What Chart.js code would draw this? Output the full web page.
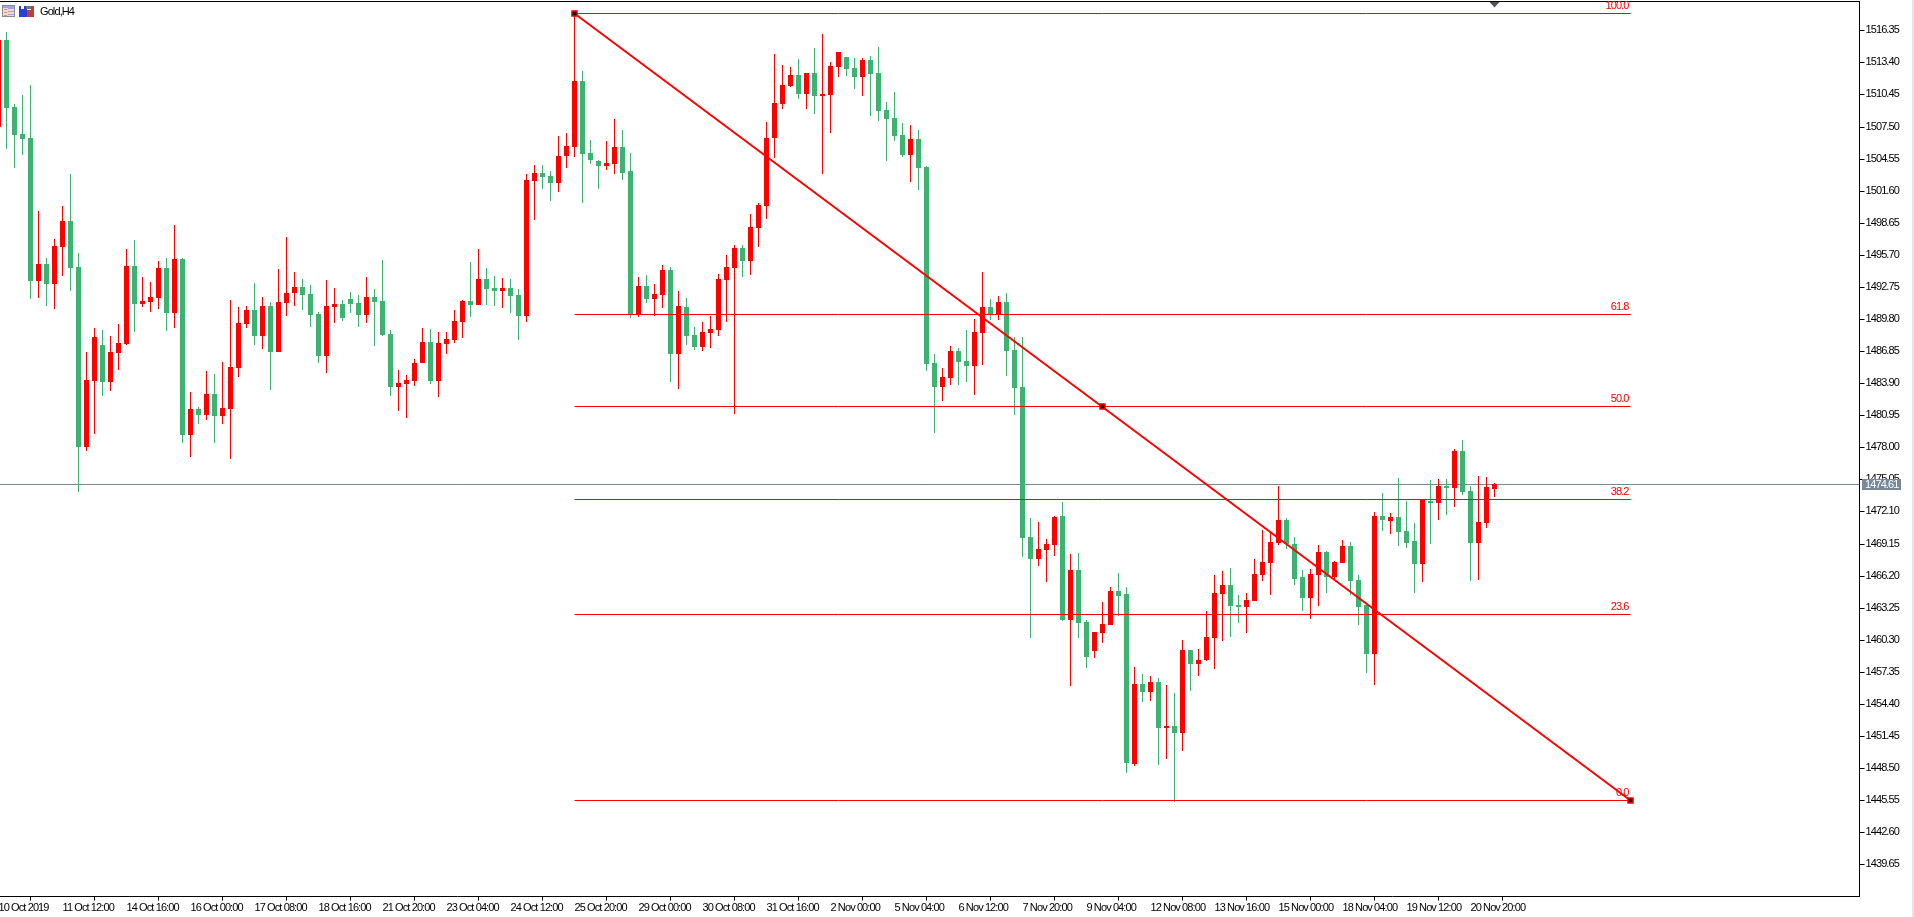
<!DOCTYPE html>
<html>
<head>
<meta charset="utf-8">
<title>Gold,H4</title>
<script src="https://cdn.jsdelivr.net/npm/chart.js@4/dist/chart.umd.min.js"></script>
<style>
html,body{margin:0;padding:0;background:#fff;overflow:hidden;width:1914px;height:917px}
#c{position:absolute;left:-10px;top:0}
#strip{position:absolute;left:1912px;top:0;width:2px;height:917px;background:#e6e6e6}
</style>
</head>
<body>
<canvas id="c" width="1924" height="917"></canvas>
<div id="strip"></div>
<script>
const symbolTitle = "Gold,H4";
const opens = [1507.49,1515.46,1509.30,1506.81,1506.44,1493.32,1494.85,1493.04,1496.45,1498.81,1494.58,1478.05,1484.12,1487.40,1484.03,1486.70,1487.52,1494.67,1491.20,1491.39,1491.76,1494.48,1490.38,1495.31,1479.15,1481.51,1480.99,1482.89,1480.90,1481.55,1485.32,1489.36,1490.62,1488.26,1490.99,1486.79,1491.30,1492.22,1492.74,1492.09,1490.25,1486.42,1490.93,1491.17,1491.63,1491.27,1490.19,1491.82,1491.45,1488.41,1483.57,1483.85,1484.12,1485.78,1487.68,1484.12,1487.52,1487.89,1489.55,1491.45,1491.11,1493.47,1492.65,1492.40,1492.65,1492.00,1490.10,1502.52,1503.22,1502.95,1502.34,1504.82,1505.65,1511.69,1505.06,1504.33,1503.90,1504.08,1505.62,1503.41,1490.16,1492.83,1491.66,1492.00,1494.30,1486.60,1490.90,1488.32,1487.25,1488.51,1488.81,1493.41,1494.48,1496.33,1495.13,1498.17,1500.19,1506.48,1509.57,1511.23,1512.24,1510.49,1512.42,1510.34,1510.40,1512.98,1513.90,1512.88,1512.06,1513.62,1512.42,1509.02,1508.28,1506.72,1504.88,1506.35,1503.78,1485.75,1483.57,1484.40,1486.85,1485.93,1485.50,1488.54,1490.90,1490.22,1491.36,1486.94,1483.52,1469.73,1467.76,1468.58,1469.04,1471.66,1462.14,1466.70,1461.91,1459.28,1460.95,1461.68,1464.77,1464.50,1448.87,1456.22,1455.50,1456.39,1452.22,1452.35,1451.72,1459.35,1458.06,1458.42,1460.50,1464.54,1465.32,1463.48,1463.32,1463.88,1466.28,1467.39,1469.23,1471.30,1469.10,1466.05,1464.17,1466.28,1468.35,1466.08,1467.39,1468.91,1465.78,1463.48,1459.02,1471.66,1471.20,1471.57,1470.29,1469.37,1467.30,1473.04,1472.91,1474.42,1474.29,1477.64,1473.96,1469.23,1471.07,1474.19];
const highs = [1515.61,1516.20,1509.57,1510.40,1511.32,1499.73,1495.41,1497.15,1500.19,1503.13,1495.87,1486.76,1488.97,1488.78,1488.23,1489.33,1496.23,1497.06,1493.66,1493.20,1495.13,1495.41,1498.44,1495.41,1483.08,1481.70,1485.01,1484.73,1485.84,1491.54,1490.90,1490.99,1493.11,1491.82,1491.36,1494.39,1497.34,1494.12,1493.47,1492.92,1490.44,1493.38,1492.65,1491.54,1492.28,1492.00,1493.66,1492.55,1495.22,1488.78,1485.10,1484.64,1486.11,1488.97,1488.87,1488.60,1488.60,1490.62,1491.54,1495.04,1496.23,1494.48,1493.75,1493.57,1493.47,1492.55,1503.13,1503.96,1503.96,1503.41,1506.63,1506.90,1517.91,1512.61,1506.26,1504.42,1506.17,1508.19,1507.18,1505.06,1493.66,1493.84,1493.01,1494.76,1494.58,1492.37,1491.73,1489.06,1489.52,1490.07,1493.93,1495.68,1496.60,1496.60,1499.45,1500.46,1507.92,1514.17,1513.16,1512.98,1513.71,1512.42,1514.72,1516.01,1513.44,1514.36,1513.90,1513.80,1513.80,1513.99,1514.82,1509.76,1510.68,1507.82,1507.64,1507.18,1503.87,1486.57,1485.29,1487.31,1487.13,1488.78,1489.79,1494.12,1491.63,1491.91,1492.18,1488.14,1488.12,1471.50,1471.11,1469.53,1471.70,1472.95,1468.18,1468.25,1462.10,1461.02,1463.75,1465.13,1466.44,1465.13,1457.77,1457.14,1456.95,1456.75,1456.13,1455.40,1460.26,1459.35,1459.44,1462.93,1466.24,1466.60,1466.90,1464.40,1464.60,1467.72,1470.38,1470.12,1474.42,1471.50,1469.73,1466.70,1466.80,1469.00,1468.45,1467.53,1469.46,1469.27,1466.24,1463.48,1472.01,1473.80,1471.96,1475.18,1473.04,1471.04,1473.21,1474.98,1475.05,1475.08,1477.84,1478.66,1474.42,1475.34,1475.25,1474.72];
const lows = [1507.33,1505.46,1503.72,1504.91,1491.66,1491.76,1491.02,1490.74,1493.75,1492.40,1473.91,1477.65,1479.25,1482.74,1483.20,1485.13,1487.40,1488.63,1490.93,1490.47,1490.74,1488.72,1489.00,1478.42,1477.13,1480.16,1480.53,1478.42,1480.16,1476.94,1484.49,1489.00,1487.43,1487.06,1483.29,1486.76,1490.10,1491.02,1490.65,1489.09,1485.78,1484.86,1489.46,1489.64,1490.38,1489.09,1489.46,1487.34,1488.26,1482.74,1481.36,1480.72,1483.66,1485.78,1483.85,1482.65,1486.60,1487.62,1488.08,1490.01,1491.11,1491.11,1491.02,1490.84,1490.38,1487.89,1489.55,1498.93,1501.78,1500.68,1501.51,1503.72,1504.73,1500.50,1504.08,1501.78,1503.53,1503.16,1502.61,1489.92,1490.01,1491.30,1490.10,1490.84,1484.03,1483.38,1487.43,1486.97,1486.88,1487.16,1488.26,1489.55,1481.08,1493.69,1493.87,1496.45,1499.02,1504.64,1509.14,1511.14,1510.06,1509.14,1508.68,1503.16,1506.94,1512.06,1512.15,1510.98,1510.34,1508.50,1508.04,1504.36,1506.20,1504.73,1502.43,1501.69,1485.04,1479.34,1482.28,1483.75,1483.75,1484.03,1482.83,1485.59,1489.70,1489.73,1484.58,1480.99,1467.92,1460.50,1467.07,1465.59,1468.02,1462.01,1456.06,1460.50,1457.74,1458.66,1460.00,1461.68,1462.47,1448.04,1448.70,1454.55,1454.65,1448.80,1449.36,1445.38,1450.08,1455.60,1456.98,1458.33,1457.64,1460.20,1460.56,1461.84,1460.95,1463.88,1465.69,1464.44,1469.04,1468.61,1465.36,1462.93,1462.24,1463.42,1464.60,1465.85,1467.39,1464.40,1461.68,1457.28,1456.16,1470.32,1470.05,1468.91,1468.74,1464.63,1465.62,1469.14,1471.34,1471.80,1472.52,1473.64,1465.72,1465.82,1470.61,1473.44];
const closes = [1515.46,1509.24,1506.75,1506.38,1493.32,1494.85,1493.04,1496.51,1498.81,1494.52,1478.05,1484.18,1488.14,1484.03,1486.76,1487.59,1494.67,1491.20,1491.45,1491.82,1494.48,1490.38,1495.31,1479.15,1481.51,1480.99,1482.89,1480.90,1481.61,1485.38,1489.43,1490.62,1488.26,1490.99,1486.79,1491.36,1492.19,1492.74,1492.03,1490.19,1486.42,1490.99,1491.17,1489.92,1491.20,1490.19,1491.82,1491.39,1488.35,1483.57,1483.91,1484.18,1485.75,1487.68,1484.12,1487.59,1487.95,1489.61,1491.45,1491.11,1493.47,1492.58,1492.40,1492.65,1491.94,1490.10,1502.58,1503.22,1502.89,1502.34,1504.79,1505.71,1511.69,1505.00,1504.45,1503.90,1504.14,1505.62,1503.26,1490.25,1492.83,1491.66,1492.09,1494.30,1486.60,1490.99,1488.26,1487.25,1488.60,1488.87,1493.47,1494.58,1496.33,1495.13,1498.26,1500.28,1506.44,1509.66,1511.32,1512.24,1510.49,1512.42,1510.34,1510.49,1513.07,1514.36,1512.79,1512.06,1513.62,1512.33,1508.93,1508.19,1506.63,1504.88,1506.35,1503.72,1485.68,1483.57,1484.46,1486.85,1485.87,1485.50,1488.60,1490.90,1490.25,1491.36,1486.88,1483.48,1469.69,1467.76,1468.64,1469.10,1471.60,1462.14,1466.70,1461.84,1458.72,1460.99,1461.74,1464.77,1464.31,1449.00,1456.22,1455.50,1456.39,1452.22,1452.35,1451.72,1459.35,1458.06,1458.42,1460.53,1464.60,1465.32,1463.42,1463.32,1463.94,1466.34,1467.43,1469.27,1471.30,1469.10,1465.92,1464.17,1466.34,1468.35,1466.08,1467.43,1468.91,1465.72,1463.32,1459.02,1471.66,1471.34,1471.57,1470.22,1469.23,1467.30,1473.21,1472.91,1474.42,1474.29,1477.64,1473.90,1469.23,1471.11,1474.33,1474.61];

const dateLabels = ["10 Oct 2019","11 Oct 12:00","14 Oct 16:00","16 Oct 00:00","17 Oct 08:00","18 Oct 16:00","21 Oct 20:00","23 Oct 04:00","24 Oct 12:00","25 Oct 20:00","29 Oct 00:00","30 Oct 08:00","31 Oct 16:00","2 Nov 00:00","5 Nov 04:00","6 Nov 12:00","7 Nov 20:00","9 Nov 04:00","12 Nov 08:00","13 Nov 16:00","15 Nov 00:00","18 Nov 04:00","19 Nov 12:00","20 Nov 20:00"];
const dateLabelEvery = 8;
const priceTicks = [1516.35,1513.40,1510.45,1507.50,1504.55,1501.60,1498.65,1495.70,1492.75,1489.80,1486.85,1483.90,1480.95,1478.00,1475.05,1472.10,1469.15,1466.20,1463.25,1460.30,1457.35,1454.40,1451.45,1448.50,1445.55,1442.60,1439.65];

const fibLabels = ["100.0","61.8","50.0","38.2","23.6","0.0"];
const fibPrices = [1517.90,1490.26,1481.72,1473.19,1462.63,1445.55];
const fibStart = 72;
const fibEnd = 204;
const fibMid = 138;
const lastPrice = 1474.61;

const priceMin = 1436.69, priceMax = 1519.00;
const barMin = -1.0625, barMax = 232.625;

const UP = "#FF0000", DOWN = "#3CB371", LAST = "#778899";
const FONT = '"Liberation Sans",sans-serif';
const colors = closes.map((c,i)=> c>=opens[i] ? UP : DOWN);
const level = p => [{x:fibStart,y:p},{x:fibEnd,y:p}];

function roundScale(fn){
  return function(scale){
    if(scale._wrapped) return;
    scale._wrapped = true;
    const g = scale.getPixelForValue;
    scale.getPixelForValue = function(v,i){ return fn(g.call(scale,v,i)); };
  };
}
function noPadding(s){ s.paddingTop = 0; s.paddingBottom = 0; s.paddingLeft = 0; s.paddingRight = 0; }

const datasets = [
  {type:"line",label:"last",yAxisID:"yLine",order:6,data:[{x:barMin,y:lastPrice},{x:barMax,y:lastPrice}],borderColor:LAST,borderWidth:1,pointRadius:0},
  {type:"bar",label:"wicks",yAxisID:"y",order:5,grouped:false,barThickness:1,inflateAmount:0,data:highs.map((h,i)=>({x:i,y:[lows[i],h]})),backgroundColor:colors},
  {type:"bar",label:"bodies",yAxisID:"y",order:4,grouped:false,barThickness:5,inflateAmount:0,data:opens.map((o,i)=>({x:i,y:[o,closes[i]]})),backgroundColor:colors}
];
fibPrices.forEach((p,k)=>datasets.push({type:"line",label:"fib "+fibLabels[k],yAxisID:"yLine",order:3,data:level(p),borderColor:UP,borderWidth:1,pointRadius:0}));
datasets.push({type:"line",label:"trend",yAxisID:"yLine",order:2,data:[{x:fibStart,y:fibPrices[0]},{x:fibEnd,y:fibPrices[5]}],borderColor:UP,borderWidth:2,pointRadius:0});
datasets.push({type:"line",label:"anchors",yAxisID:"yLine",order:1,showLine:false,data:[{x:fibStart,y:fibPrices[0]},{x:fibMid,y:fibPrices[2]},{x:fibEnd,y:fibPrices[5]}],pointStyle:"rect",pointRadius:3.6,pointBackgroundColor:"#000",pointBorderColor:UP,pointBorderWidth:1.4});

const overlay = {
  id:"overlay",
  beforeDraw(chart){ chart.ctx.letterSpacing = "-0.9px"; },
  afterDraw(chart){
    const ctx = chart.ctx, xs = chart.scales.x, ys = chart.scales.yLine;
    ctx.save();
    ctx.fillStyle="#000";
    ctx.fillRect(0,1,chart.chartArea.right+0.5,1);
    ctx.font='11px '+FONT; ctx.fillStyle=UP; ctx.textAlign="right"; ctx.textBaseline="middle";
    const capX = xs.getPixelForValue(fibEnd)-2;
    fibLabels.forEach((t,k)=>ctx.fillText(t,capX,ys.getPixelForValue(fibPrices[k])-8));
    const ly = ys.getPixelForValue(lastPrice);
    ctx.fillStyle=LAST; ctx.fillRect(1872,479,39,11);
    ctx.fillStyle="#fff"; ctx.textAlign="left";
    ctx.fillText(lastPrice.toFixed(2),1875,ly+0.5);
    ctx.fillStyle="#000"; ctx.font='11px '+FONT;
    ctx.fillText(symbolTitle,50,12);
    ctx.fillStyle="#8a8a9a"; ctx.fillRect(12,5,13,12);
    ctx.fillStyle="#f4d8c8"; ctx.fillRect(13,6,11,10);
    ctx.fillStyle="#9aa6e8"; ctx.fillRect(13,6,11,2); ctx.fillRect(18,8,6,1); ctx.fillRect(18,11,6,1); ctx.fillRect(18,14,6,1);
    ctx.fillStyle="#e88a70"; ctx.fillRect(14,9,3,1); ctx.fillRect(14,12,3,1); ctx.fillRect(14,15,3,1);
    ctx.fillStyle="#2a3fd8"; ctx.fillRect(29,6,8,11);
    ctx.fillStyle="#fff"; ctx.fillRect(31,6,3,3);
    ctx.fillStyle="#c83a32"; ctx.fillRect(37,10,7,7); ctx.fillRect(41,6,3,5);
    ctx.fillStyle="#777"; ctx.fillRect(36,6,5,3);
    const tx = xs.getPixelForValue(187);
    ctx.fillStyle="#555"; ctx.beginPath(); ctx.moveTo(tx-5,2); ctx.lineTo(tx+5,2); ctx.lineTo(tx,7.5); ctx.closePath(); ctx.fill();
    ctx.restore();
  }
};

new Chart(document.getElementById("c"),{
  data:{datasets},
  plugins:[overlay],
  options:{
    responsive:false,animation:false,devicePixelRatio:1,
    layout:{padding:{top:1.5,left:0,right:0,bottom:0},autoPadding:false},
    plugins:{legend:{display:false},tooltip:{enabled:false},title:{display:false}},
    elements:{line:{tension:0,borderCapStyle:"butt"}},
    scales:{
      x:{type:"linear",position:"bottom",min:barMin,max:barMax,offset:false,
        afterBuildTicks(s){ s.ticks = dateLabels.map((_,k)=>({value:k*dateLabelEvery})); },
        afterFit(s){ s.height = 20.5; noPadding(s); },
        grid:{drawOnChartArea:false,drawTicks:true,tickLength:4,color:"#000",tickColor:"#000"},
        border:{display:true,color:"#000",width:1},
        ticks:{autoSkip:false,maxRotation:0,minRotation:0,align:"start",padding:1,color:"#000",font:{family:FONT,size:11},
          callback(v){ return dateLabels[Math.round(v/dateLabelEvery)]; }}
      },
      y:{type:"linear",position:"right",min:priceMin,max:priceMax,
        afterUpdate:roundScale(Math.round),
        afterBuildTicks(s){ s.ticks = priceTicks.map(v=>({value:v})); },
        afterFit(s){ s.width = 54.5; noPadding(s); },
        grid:{drawOnChartArea:false,drawTicks:true,tickLength:5,color:"#000",tickColor:"#000"},
        border:{display:true,color:"#000",width:1},
        ticks:{autoSkip:false,padding:1,color:"#000",font:{family:FONT,size:11},
          callback(v){ return v.toFixed(2); }}
      },
      yLine:{type:"linear",position:"right",display:false,min:priceMin,max:priceMax,
        ticks:{display:false},
        afterFit(s){ s.width = 0; noPadding(s); },
        afterUpdate:roundScale(p=>Math.floor(p)+0.5)
      }
    }
  }
});
</script>
</body>
</html>
